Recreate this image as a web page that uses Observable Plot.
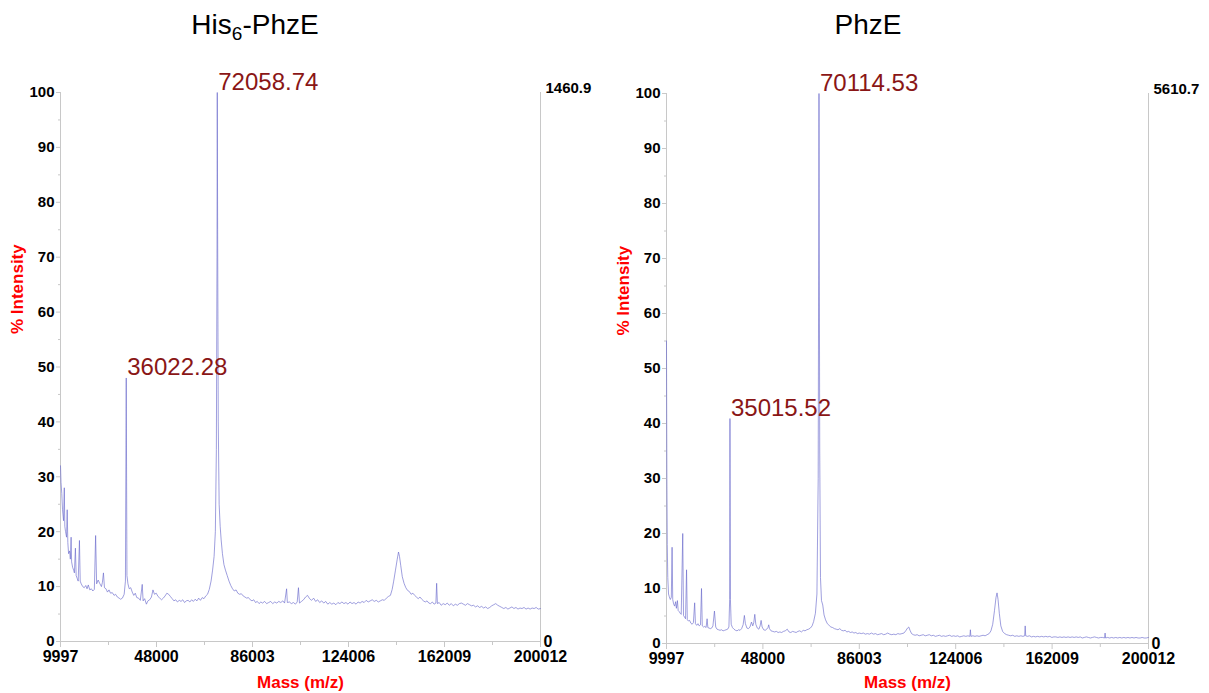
<!DOCTYPE html>
<html><head><meta charset="utf-8">
<script src="https://cdn.jsdelivr.net/npm/d3@7"></script>
<script src="https://cdn.jsdelivr.net/npm/@observablehq/plot@0.6"></script>
<style>
body{margin:0;background:#fff;font-family:"Liberation Sans",Arial,sans-serif;}
#wrap{position:relative;width:1209px;height:693px;overflow:hidden;background:#fff;}
.panel{position:absolute;top:0;}
.title{position:absolute;top:11px;font-size:28px;line-height:1;color:#000;white-space:nowrap;transform:translateX(-50%);}
.title sub{font-size:0.68em;vertical-align:-0.3em;line-height:0;}
</style></head><body>
<div id="wrap">
  <div class="title" style="left:255px">His<sub>6</sub>-PhzE</div>
  <div class="title" style="left:868px">PhzE</div>
</div>
<script>
// ---------- tick labels ----------
const xTicks = [9997, 48000, 86003, 124006, 162009, 200012];
const xMinor = [28998.5, 67001.5, 105004.5, 143007.5, 181010.5];
const yTicks = [0,10,20,30,40,50,60,70,80,90,100];
const yMinor = [5,15,25,35,45,55,65,75,85,95];
const xLabel = "Mass (m/z)";
const yLabel = "% Intensity";

// ---------- His6-PhzE spectrum ----------
const massHis = [9997,10200,10500,10800,11200,11500,11700,12000,12400,12650,12900,13200,13600,13900,14200,14400,14800,15200,15500,15900,16200,16600,17000,17500,17800,18200,18800,19400,20000,20500,21000,21600,22200,22800,23400,23900,24300,24900,25500,26200,26600,27000,27400,28000,28600,29200,29800,30500,31200,31800,32500,33200,33800,34500,35200,35700,36022,36300,36700,37200,37800,38400,39000,39600,40200,40900,41600,42350,42700,43300,44000,44600,45300,46000,46600,47200,47900,48600,49300,50000,50700,51400,52100,52800,53500,54200,54900,55600,56300,57000,57700,58400,59100,59800,60500,61200,61900,62600,63300,64000,64700,65400,66100,66800,67500,68200,68900,69600,70200,70800,71300,71700,71950,72058,72200,72450,72800,73200,73600,74100,74700,75300,76000,76700,77400,78100,78800,79500,80200,80900,81600,82300,83000,83700,84400,85100,85800,86500,87200,87900,88600,89300,90000,90800,91600,92400,93200,94000,94800,95600,96400,97200,98000,98700,99500,99800,100600,101400,102200,103000,103700,104200,104600,105400,106200,107000,107800,108600,109400,110200,111000,111800,112600,113400,114200,115000,115800,116600,117400,118200,119000,119800,120600,121400,122200,123000,123800,124600,125400,126200,127000,127800,128600,129400,130200,131000,131800,132600,133400,134200,135000,135800,136600,137400,138200,139000,139800,140600,141300,141900,142600,143300,143800,144200,144700,145300,146000,146700,147400,148100,148800,149500,150200,150900,151600,152300,153000,153700,154400,155100,155800,156500,157200,157900,158600,158900,159200,159900,160700,161500,162300,163100,163900,164700,165500,166300,167100,167900,168700,169500,170300,171100,171900,172700,173500,174300,175100,175900,176700,177500,178300,179100,179900,180700,181500,182300,183100,183900,184700,185500,186300,187100,187900,188700,189500,190300,191100,191900,192700,193500,194300,195100,195900,196700,197500,198300,199100,200012];
const intHis = [32,29,27,24,22,28,21,20,19,24,18,16,16.5,15,19,14.5,13.5,13,12.5,17,12,11.5,11,18.4,11,10.5,10,9.8,10.2,9.6,10.3,9.4,9.6,9.2,9.5,19.3,10.5,11.2,10.6,10,10.8,12.5,9.8,9.6,9,9.4,8.8,8.9,8.4,8.6,8.1,7.9,7.7,7.9,8.6,11,48,12,10.5,9.6,9.8,9,8.4,8.8,8,7.9,7.5,10.4,7.4,7.8,6.8,7.4,7.6,8.1,9.4,8.6,8.8,8.2,7.9,7.6,7.9,8.3,8.8,8.6,8.2,7.8,7.4,7.6,7.2,7.5,7.3,7.6,7.1,7.4,7.5,7.2,7.6,7.3,7.7,7.4,7.9,7.5,8,7.8,8.3,8.6,9.5,11,13,15.5,20,35,70,100,75,40,25,21,18.5,16,14,13,12,11,10.2,9.6,9.2,9.4,8.8,8.6,8.7,8.3,8.1,7.9,8,7.6,7.4,7.6,7.1,7.3,6.9,7.2,7.0,7.3,6.9,7.1,7.3,6.9,7.2,7.0,7.3,7.1,7.4,7.0,9.6,7.1,7.2,6.9,7.1,6.8,7.2,9.8,7,7.3,7.6,8.1,8.4,7.8,7.5,7.9,7.3,7.6,7.1,7.4,7,7.3,6.8,7.1,6.8,7,6.7,7.1,6.9,7.2,6.9,7.1,6.8,7.2,6.9,7.1,6.8,7.2,7,7.3,7.1,7.5,7.2,7.4,7.6,7.3,7.5,7.2,7.4,7.6,7.5,7.9,8.2,8.4,9.5,11,13,15,16.3,15.5,13.8,11.8,10.6,9.8,9.3,9.1,8.6,8.8,8.4,8.1,7.8,8.1,7.7,7.4,7.2,7.4,7,6.9,7.2,6.8,7,10.6,6.9,7.1,6.6,6.9,6.7,7,6.6,6.9,6.5,6.8,6.6,6.9,7.0,6.8,6.6,6.9,6.7,6.5,6.6,6.3,6.5,6.2,6.4,6.1,6.3,6.0,6.2,6.5,6.7,6.9,6.6,6.4,6.2,6.0,6.2,5.9,6.1,6.3,6.0,6.2,5.9,6.1,6.0,6.2,5.9,6.1,5.9,6.1,6.0,6.2,5.9,6.0];
const peakMassHis = [36022, 72058];
const peakIntHis = [48, 100];
const peakTextHis = ["36022.28", "72058.74"];
const scaleMaxHis = "1460.9";

// ---------- PhzE spectrum ----------
const massPhz = [9997,10150,10300,10500,10800,11100,11500,11900,12200,12450,12800,13200,13600,13900,14300,14600,15000,15400,15800,16400,16700,17100,17500,17900,18200,18600,19100,19600,20100,20600,21100,21400,21900,22400,22900,23400,23800,24100,24600,25100,25600,26000,26300,26800,27300,27800,28300,28900,29400,29900,30500,31100,31700,32300,32900,33500,34100,34600,34900,35015,35200,35500,36000,36600,37200,37800,38400,39000,39600,40200,40700,41100,41700,42300,42900,43500,44000,44400,44800,45200,45800,46400,46900,47300,47700,48300,48900,49500,50000,50300,50600,51200,51900,52600,53300,54000,54700,55400,56100,56800,57600,58300,59000,59700,60400,61100,61800,62500,63200,63900,64600,65300,66000,66700,67400,68000,68700,69300,69800,70114,70400,70700,71100,71600,72100,72700,73400,74100,74800,75500,76200,76900,77600,78300,79000,79700,80400,81100,81800,82500,83200,83900,84600,85300,86000,86800,87600,88400,89200,90000,90800,91600,92400,93200,94000,94800,95600,96400,97200,98000,98800,99600,100400,101200,102000,102800,103600,104300,105000,105500,106000,106600,107300,108000,108800,109600,110400,111200,112000,112800,113600,114400,115200,116000,116800,117600,118400,119200,120000,120800,121600,122400,123200,124000,124800,125600,126400,127200,128000,128800,129600,129800,130000,130800,131600,132400,133200,134000,134800,135600,136400,137200,137900,138600,139300,139900,140300,140700,141200,141800,142500,143300,144100,144900,145700,146500,147300,148100,148900,149700,150500,151200,151400,151600,152300,153100,153900,154700,155500,156300,157100,157900,158700,159500,160300,161100,161900,162700,163500,164300,165100,165900,166700,167500,168300,169100,169900,170700,171500,172300,173100,173900,174700,175500,176300,177100,177900,178700,179500,180300,181100,181900,182700,182900,183100,183900,184700,185500,186300,187100,187900,188700,189500,190300,191100,191900,192700,193500,194300,195100,195900,196700,197500,198300,199100,200012];
const intPhz = [55,30,18,12,9,8.5,8,8.4,17.5,8,7.2,6.8,7.6,6.4,7.8,6,5.8,5.5,5.3,20,5.1,4.8,4.5,13.4,4.3,4.1,4.2,3.7,3.5,3.8,7.4,3.6,3.3,3.6,3.2,3.4,10,3.2,3.0,3.1,2.9,4.5,2.9,2.8,2.7,2.8,3.2,5.9,3.0,2.6,2.5,2.4,2.5,2.3,2.4,2.5,2.6,3.0,8,40.9,8,3.5,2.9,2.6,2.4,2.3,2.5,2.4,2.7,3.4,5.1,3.6,2.8,2.7,3.0,3.9,3.2,3.8,5.3,3.5,2.8,2.6,3.2,4.2,3.0,2.5,2.4,2.6,2.9,3.4,2.7,2.3,2.2,2.1,2.2,2.0,2.1,2.0,2.2,2.3,2.6,2.1,2.0,2.2,2.1,2.0,2.2,2.3,2.1,2.4,2.3,2.5,2.6,2.8,3.2,4,5.5,9,30,100,35,12,7.8,7,5.2,4.3,3.6,3.3,3.0,2.9,2.7,2.6,2.5,2.7,2.4,2.3,2.4,2.1,2.2,2.0,2.1,1.9,2.0,1.8,1.9,1.8,1.9,1.7,1.8,1.7,1.9,1.7,1.8,1.6,1.7,1.8,1.6,1.7,1.9,1.7,1.6,1.7,1.6,1.8,1.7,1.8,1.9,2.3,2.8,3.0,2.4,1.8,1.6,1.5,1.6,1.4,1.5,1.6,1.4,1.5,1.6,1.4,1.5,1.3,1.4,1.5,1.3,1.4,1.3,1.4,1.5,1.3,1.4,1.3,1.4,1.2,1.3,1.4,1.3,1.4,1.3,2.5,1.3,1.4,1.3,1.4,1.3,1.4,1.5,1.4,1.6,1.8,2.3,3.5,6,8.4,9.2,8,5.5,3.2,2.2,1.8,1.6,1.5,1.4,1.5,1.3,1.4,1.3,1.4,1.3,1.4,3.2,1.4,1.3,1.4,1.2,1.3,1.2,1.3,1.2,1.3,1.2,1.3,1.2,1.3,1.1,1.2,1.2,1.1,1.2,1.1,1.2,1.1,1.2,1.1,1.2,1.1,1.2,1.1,1.2,1.0,1.1,1.2,1.1,1.0,1.1,1.2,1.1,1.0,1.1,1.1,1.0,1.9,1.0,1.1,1.0,1.1,1.0,1.1,1.0,1.1,1.0,1.1,1.0,1.1,1.0,1.1,1.0,1.1,1.0,1.0,1.1,1.0,1.0,1.1];
const peakMassPhz = [35015, 70114];
const peakIntPhz = [40.9, 100];
const peakTextPhz = ["35015.52", "70114.53"];
const scaleMaxPhz = "5610.7";

// ---------- drawing ----------
const LINE = "#6a6acc";
const AXIS = "#c8c8c8";
const PEAK = "#8a1616";
const FONT = "'Liberation Sans', Arial, sans-serif";

function panel({mass, inten, pMass, pInt, pText, scaleMax, left, width, mL, mR, mT, mB, xLabDy}) {
  const rows = mass.map((m, i) => ({m, v: inten[i]}));
  const peaks = pMass.map((m, i) => ({m, v: pInt[i], t: pText[i]}));
  const x0 = xTicks[0], x1 = xTicks[xTicks.length - 1];
  const svg = Plot.plot({
    width, height: 693,
    marginLeft: mL, marginRight: mR, marginTop: mT, marginBottom: mB,
    x: {domain: [x0, x1]},
    y: {domain: [0, 100]},
    style: {fontFamily: FONT, background: "transparent", overflow: "visible", color: "#000"},
    marks: [
      Plot.ruleY([0], {stroke: AXIS}),
      Plot.ruleX([x0], {stroke: AXIS}),
      Plot.ruleX([x1], {stroke: AXIS}),
      Plot.axisX({ticks: xMinor, tickSize: 4, tickFormat: () => null, stroke: AXIS, label: null}),
      Plot.axisX({ticks: xTicks, tickSize: 6, tickPadding: 3, tickFormat: d => String(d), stroke: AXIS, fill: "#000",
                  fontSize: 16, fontWeight: "bold", label: null}),
      Plot.axisY({ticks: yMinor, tickSize: 2, tickFormat: () => null, stroke: AXIS, label: null}),
      Plot.axisY({ticks: yTicks, tickSize: 4, tickPadding: 2, tickFormat: d => String(d), stroke: AXIS, fill: "#000",
                  fontSize: 15, fontWeight: "bold", label: null}),
      Plot.line(rows, {x: "m", y: "v", stroke: LINE, strokeWidth: 0.65}),
      Plot.text(peaks, {x: "m", y: "v", text: "t", textAnchor: "start", lineAnchor: "bottom", dx: 1, dy: -3,
                        fill: PEAK, fontSize: 24}),
      Plot.text([scaleMax], {x: x1, y: 100, text: d => d, textAnchor: "start", lineAnchor: "bottom", dx: 5, dy: 0,
                        fontSize: 15, fontWeight: "bold", fill: "#000"}),
      Plot.text(["0"], {x: x1, y: 0, text: d => d, textAnchor: "start", lineAnchor: "middle", dx: 3,
                        fontSize: 16, fontWeight: "bold", fill: "#000"}),
      Plot.text([yLabel], {frameAnchor: "left", rotate: -90, dx: -43, dy: -33, fill: "#ff0000",
                        fontSize: 17, fontWeight: "bold"}),
      Plot.text([xLabel], {frameAnchor: "bottom", lineAnchor: "middle", dy: xLabDy, fill: "#ff0000",
                        fontSize: 17, fontWeight: "bold"})
    ]
  });
  svg.classList.add("panel");
  svg.style.left = left + "px";
  document.getElementById("wrap").appendChild(svg);
}

panel({mass: massHis, inten: intHis, pMass: peakMassHis, pInt: peakIntHis, pText: peakTextHis, scaleMax: scaleMaxHis,
       left: 0, width: 604, mL: 60, mR: 64, mT: 92, mB: 52, xLabDy: 41});
panel({mass: massPhz, inten: intPhz, pMass: peakMassPhz, pInt: peakIntPhz, pText: peakTextPhz, scaleMax: scaleMaxPhz,
       left: 604, width: 605, mL: 62, mR: 61, mT: 93, mB: 50, xLabDy: 39});
</script>
</body></html>
